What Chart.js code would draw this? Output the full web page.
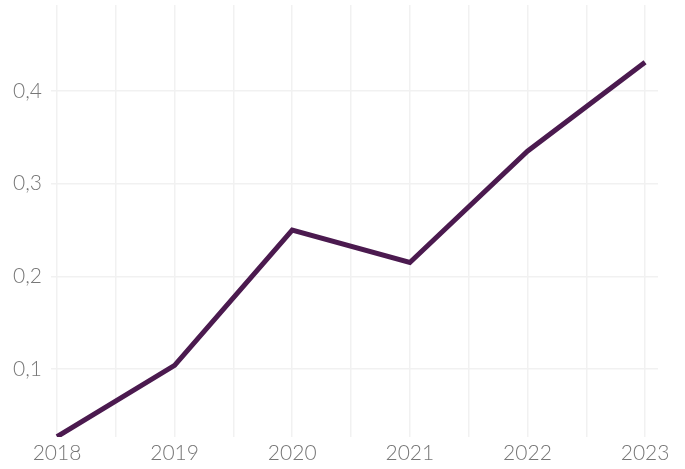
<!DOCTYPE html>
<html>
<head>
<meta charset="utf-8">
<script src="https://cdn.jsdelivr.net/npm/chart.js@4"></script>
<style>
  html, body { margin: 0; padding: 0; background: #ffffff; }
  #wrap { width: 685px; height: 469px; }
</style>
</head>
<body>
<div id="wrap"><canvas id="trendChart"></canvas></div>
<script>
const years = [2018, 2019, 2020, 2021, 2022, 2023];
const values = [0.027, 0.104, 0.250, 0.215, 0.335, 0.431];
const yTicks = [0.1, 0.2, 0.3, 0.4];

// grid every half year, labels on whole years only
const xGrid = [];
for (let y = years[0]; y <= years[years.length - 1]; y += 0.5) xGrid.push(y);

const tickFont = { family: 'Lato', size: 21, weight: 300 };

const ctx = document.getElementById('trendChart').getContext('2d');
new Chart(ctx, {
    type: 'line',
    data: {
        datasets: [{
            data: years.map((yr, i) => ({ x: yr, y: values[i] })),
            borderColor: '#4b1a4f',
            borderWidth: 5,
            pointRadius: 0,
            tension: 0,
            clip: 0,
        }],
    },
    options: {
        responsive: true,
        maintainAspectRatio: false,
        animation: false,
        layout: { padding: { top: 5, right: 27, left: 0, bottom: 0 } },
        plugins: {
            legend: { display: false },
            tooltip: { enabled: false },
        },
        scales: {
            x: {
                type: 'linear',
                min: 2017.949,
                max: 2023.11,
                afterBuildTicks: (axis) => { axis.ticks = xGrid.map(v => ({ value: v })); },
                afterFit: (axis) => {
                    axis.height = 32;
                    axis.paddingLeft = 0;
                    axis.paddingRight = 0;
                },
                border: { display: false },
                grid: { color: '#f1f1f1', lineWidth: 1.5, drawTicks: false },
                ticks: {
                    color: '#777777',
                    font: tickFont,
                    padding: 4,
                    maxRotation: 0,
                    autoSkip: false,
                    callback: (v) => Number.isInteger(v) ? String(v) : '',
                },
            },
            y: {
                min: 0.0267,
                max: 0.4928,
                afterBuildTicks: (axis) => { axis.ticks = yTicks.map(v => ({ value: v })); },
                afterFit: (axis) => {
                    axis.width = 51;
                    axis.paddingTop = 0;
                    axis.paddingBottom = 0;
                },
                border: { display: false },
                grid: { color: '#f1f1f1', lineWidth: 1.5, drawTicks: false },
                ticks: {
                    color: '#777777',
                    font: tickFont,
                    padding: 9,
                    callback: (v) => v.toFixed(1).replace('.', ','),
                },
            },
        },
    },
});
</script>
</body>
</html>
